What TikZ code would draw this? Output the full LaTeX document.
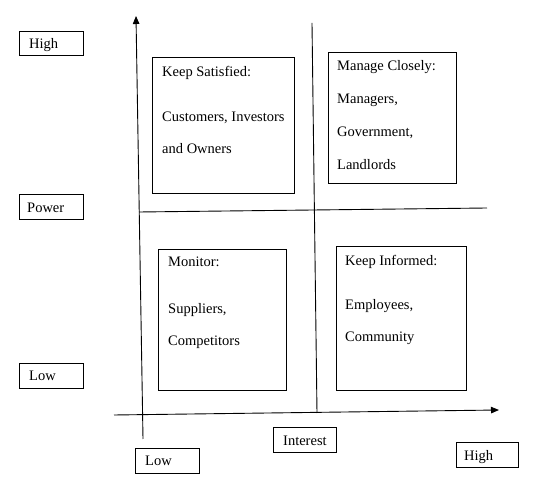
\documentclass[tikz,border=0pt]{standalone}
\usepackage{fontspec}
\setmainfont{Liberation Serif}
\usetikzlibrary{arrows.meta}
\begin{document}
\begin{tikzpicture}[x=1pt,y=-1pt,
  box/.style={draw=black,line width=0.9pt},
  axis/.style={draw=black,line width=0.9pt},
  lbl/.style={anchor=base west,inner sep=0pt,font=\fontsize{14.5}{17}\selectfont},
  tip/.style={-{Triangle[length=8pt,width=6.5pt]}}]
\useasboundingbox (0,0) rectangle (550,494);
% axes
\coordinate (vb) at (143,439);
\coordinate (vt) at (136,16);
\coordinate (hl) at (114,415);
\coordinate (hr) at (499,410);
\draw[axis,tip] (vb) -- (vt);
\draw[axis,tip] (hl) -- (hr);
% dividers
\coordinate (ml) at (139,212);
\coordinate (mr) at (487,208);
\coordinate (mt) at (312,23);
\coordinate (mb) at (317,413);
\draw[axis] (ml) -- (mr);
\draw[axis] (mt) -- (mb);
% quadrant boxes
\draw[box] (152,57) rectangle (294,193);
\draw[box] (328,52) rectangle (456,183);
\draw[box] (158,249) rectangle (286,390);
\draw[box] (336,246) rectangle (466,390);
% quadrant text
\node[lbl] (ks1) at (162,77) {Keep Satisfied:};
\node[lbl] (ks2) at (162,122) {Customers, Investors};
\node[lbl] (ks3) at (162,154) {and Owners};
\node[lbl] (mc1) at (337,71) {Manage Closely:};
\node[lbl] (mc2) at (337,104) {Managers,};
\node[lbl] (mc3) at (337,137) {Government,};
\node[lbl] (mc4) at (337,170) {Landlords};
\node[lbl] (mo1) at (168,267) {Monitor:};
\node[lbl] (mo2) at (168,314) {Suppliers,};
\node[lbl] (mo3) at (168,346) {Competitors};
\node[lbl] (ki1) at (345,266) {Keep Informed:};
\node[lbl] (ki2) at (345,310) {Employees,};
\node[lbl] (ki3) at (345,342) {Community};
% axis label boxes
\draw[box] (19,31) rectangle (83,55);
\node[lbl] (hh) at (29,49) {High};
\draw[box] (19,194) rectangle (83,219);
\node[lbl] (pw) at (27,213) {Power};
\draw[box] (19,363) rectangle (83,388);
\node[lbl] (ll) at (29,381) {Low};
\draw[box] (135,448) rectangle (199,473);
\node[lbl] (lb) at (145,466) {Low};
\draw[box] (273,427) rectangle (336,452);
\node[lbl] (in) at (283,446) {Interest};
\draw[box] (456,442) rectangle (518,467);
\node[lbl] (hb) at (464,461) {High};
\end{tikzpicture}
\end{document}
